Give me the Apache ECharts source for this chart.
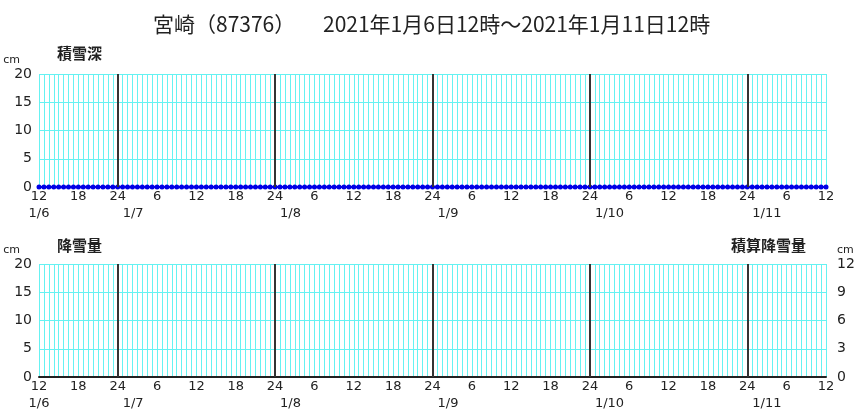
<!DOCTYPE html>
<html lang="ja">
<head>
<meta charset="UTF-8">
<title>宮崎 積雪深・降雪量</title>
<script src="https://cdn.jsdelivr.net/npm/echarts@6.0.0/dist/echarts.min.js"></script>
<style>html,body{margin:0;background:#fff}</style>
</head>
<body>
<div id="main" style="width:859px;height:413px"></div>
<script>
// hours counted from 1/6 00:00; chart runs 1/6 12h .. 1/11 12h
const xTicks = [12, 18, 24, 30, 36, 42, 48, 54, 60, 66, 72, 78, 84, 90, 96, 102, 108, 114, 120, 126, 132];
const hourLabels = ['12', '18', '24', '6', '12', '18', '24', '6', '12', '18', '24', '6', '12', '18', '24', '6', '12', '18', '24', '6', '12'];
const dateTicks = [12, 24, 48, 72, 96, 120];
const dateTexts = ['1/6', '1/7', '1/8', '1/9', '1/10', '1/11'];
const midnights = [24, 48, 72, 96, 120];

// snow depth (cm), one reading per 45 min step
const depth = [
  0,0,0,0,0,0,0,0,0,0,0,0,0,0,0,0,0,0,0,0,0,0,0,0,0,0,0,0,0,0,0,0,0,0,0,0,0,0,0,0,
  0,0,0,0,0,0,0,0,0,0,0,0,0,0,0,0,0,0,0,0,0,0,0,0,0,0,0,0,0,0,0,0,0,0,0,0,0,0,0,0,
  0,0,0,0,0,0,0,0,0,0,0,0,0,0,0,0,0,0,0,0,0,0,0,0,0,0,0,0,0,0,0,0,0,0,0,0,0,0,0,0,
  0,0,0,0,0,0,0,0,0,0,0,0,0,0,0,0,0,0,0,0,0,0,0,0,0,0,0,0,0,0,0,0,0,0,0,0,0,0,0,0,
  0
];
// snowfall (cm) and accumulated snowfall (cm), same steps
const snowfall = depth.slice();
const snowTotal = depth.slice();
const times = depth.map((v, i) => 12 + i * 0.75);

const cyan = '#66f2f2';
const ink = '#222';
const labelFont = 'DejaVu Sans';

const dateAt = v => dateTexts[dateTicks.indexOf(v)];

function hourAxis(grid) {
  return {
    type: 'value', gridIndex: grid, position: 'bottom', min: 12, max: 132, interval: 6,
    axisLine: { onZero: false, lineStyle: { color: ink, width: 2 } },
    axisTick: { show: false },
    axisLabel: {
      color: ink, fontFamily: labelFont, fontSize: 13, margin: 1, lineHeight: 17,
      showMinLabel: true, showMaxLabel: true,
      // first date sits right under the first hour label
      formatter: v => v === 12 ? hourLabels[0] + '\n' + dateAt(12) : hourLabels[xTicks.indexOf(v)]
    },
    splitLine: { lineStyle: { color: cyan, width: 1 } },
    minorTick: { show: false, splitNumber: 8 },
    minorSplitLine: { show: true, lineStyle: { color: cyan, width: 1 } }
  };
}
function dateAxis(grid) {
  return {
    type: 'value', gridIndex: grid, position: 'bottom', min: 12, max: 132, interval: 6, offset: 17,
    axisLine: { show: false }, axisTick: { show: false }, splitLine: { show: false },
    axisLabel: {
      customValues: midnights,
      color: ink, fontFamily: labelFont, fontSize: 13, margin: 1, lineHeight: 17,
      align: 'left', padding: [0, 0, 0, 5],
      formatter: v => dateAt(v)
    }
  };
}
function valAxis(grid, max, step, side) {
  return {
    type: 'value', gridIndex: grid, min: 0, max: max, interval: step, position: side,
    name: 'cm', nameLocation: 'end', nameGap: 8,
    nameTextStyle: side === 'left'
      ? { color: ink, fontFamily: labelFont, fontSize: 11, align: 'right', padding: [0, 19, 0, 0] }
      : { color: ink, fontFamily: labelFont, fontSize: 11, align: 'left', padding: [0, 0, 0, 11] },
    axisLine: { show: false }, axisTick: { show: false },
    axisLabel: { color: ink, fontFamily: labelFont, fontSize: 14, margin: side === 'left' ? 7 : 11 },
    splitLine: { show: side === 'left', lineStyle: { color: cyan, width: 1 } }
  };
}
const dayLines = {
  silent: true, symbol: 'none', label: { show: false },
  lineStyle: { color: '#333', width: 2, type: 'solid' },
  data: midnights.map(v => ({ xAxis: v }))
};

const titleFont = { fontFamily: 'Noto Sans CJK JP', fontSize: 21, fontWeight: 'normal', color: ink };
const subFont = { fontFamily: 'Noto Sans CJK JP', fontSize: 15, fontWeight: 'bold', color: ink };

const chart = echarts.init(document.getElementById('main'));
chart.setOption({
  animation: false,
  title: [
    { text: '宮崎（87376）', left: 148, top: 9, textStyle: titleFont },
    { text: '2021年1月6日12時～2021年1月11日12時', left: 318, top: 9, textStyle: titleFont },
    { text: '積雪深', left: 52, top: 41, textStyle: subFont },
    { text: '降雪量', left: 52, top: 233, textStyle: subFont },
    { text: '積算降雪量', left: 726, top: 233, textStyle: subFont }
  ],
  grid: [
    { left: 39, right: 33, top: 74, height: 113 },
    { left: 39, right: 33, top: 264, height: 113 }
  ],
  xAxis: [hourAxis(0), dateAxis(0), hourAxis(1), dateAxis(1)],
  yAxis: [valAxis(0, 20, 5, 'left'), valAxis(1, 20, 5, 'left'), valAxis(1, 12, 3, 'right')],
  series: [
    {
      name: '積雪深', type: 'line', xAxisIndex: 0, yAxisIndex: 0,
      data: times.map((t, i) => [t, depth[i]]),
      symbol: 'circle', symbolSize: 5, itemStyle: { color: '#0000e6' },
      lineStyle: { color: '#0000e6', width: 2 },
      markLine: dayLines
    },
    {
      name: '降雪量', type: 'bar', xAxisIndex: 2, yAxisIndex: 1, barWidth: 3,
      data: times.map((t, i) => [t, snowfall[i]]), itemStyle: { color: '#0000e6' },
      markLine: dayLines
    },
    {
      name: '積算降雪量', type: 'line', xAxisIndex: 2, yAxisIndex: 2, showSymbol: false,
      data: times.map((t, i) => [t, snowTotal[i]]), lineStyle: { color: ink, width: 1 }
    }
  ]
});
</script>
</body>
</html>
